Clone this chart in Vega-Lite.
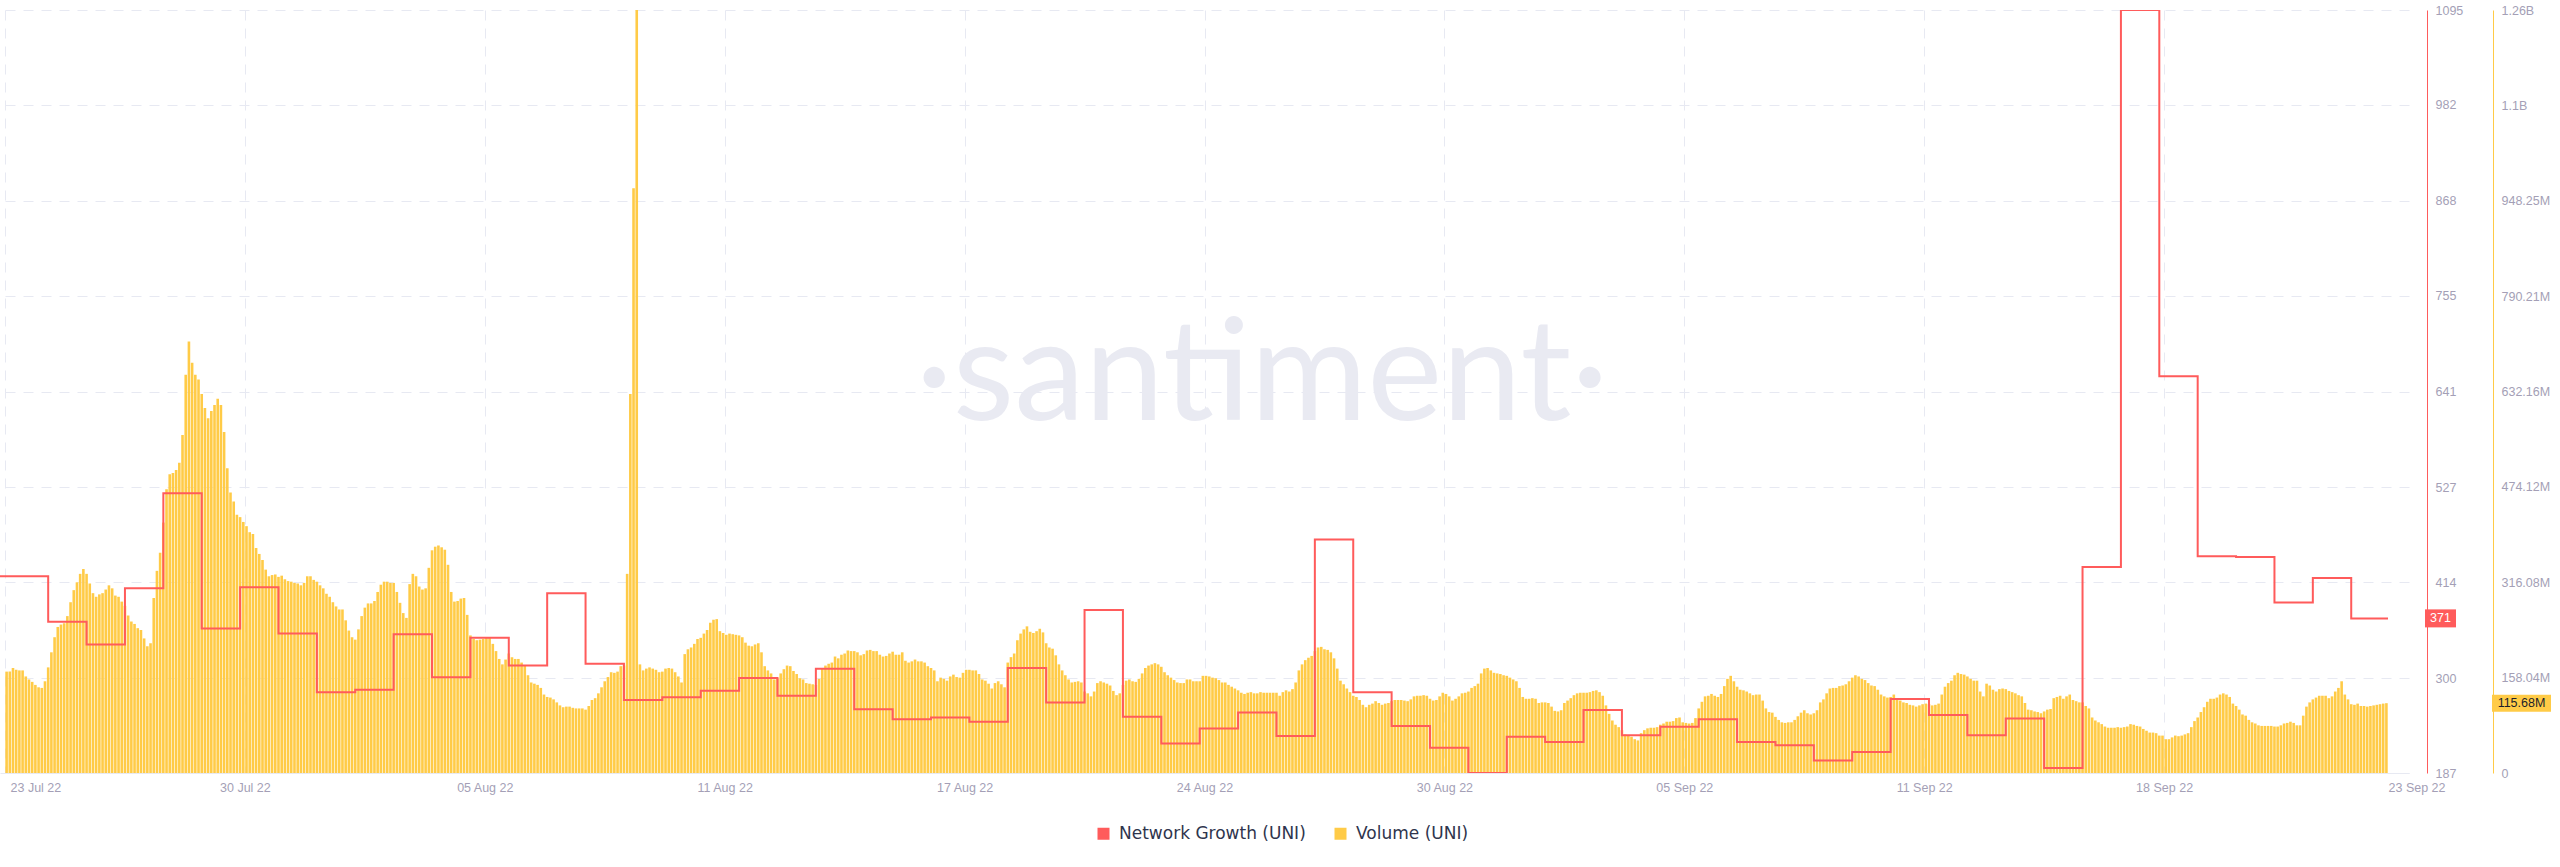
{
"$schema":"https://vega.github.io/schema/vega-lite/v6.json",
"width":2409,"height":763,
"autosize":{"type":"none"},
"padding":{"left":0,"top":10,"right":151,"bottom":94},
"background":"white",
"config":{"view":{"stroke":null},"font":"Liberation Sans"},
"resolve":{"scale":{"y":"independent"},"axis":{"y":"independent"}},
"layer":[
{"layer":[
{"data":{"values":[{"t":"22082515","v":585,"lbl":"·santiment·"}],"format":{"parse":{"t":"date:'%y%m%d%H'"}}},
"mark":{"type":"text","font":"Lato","fontSize":142,"color":"#e9eaf2","align":"center","baseline":"alphabetic"},
"encoding":{"x":{"field":"t","type":"temporal","scale":{"domain":[{"year":2022,"month":7,"date":23,"hours":21},{"year":2022,"month":9,"date":24,"hours":9}]}},
"y":{"field":"v","type":"quantitative","scale":{"domain":[0,1264.33],"nice":false,"zero":true}},
"text":{"field":"lbl","type":"nominal"}}},
{"data":{"values":[
{"t":"22072322","v":168},
{"t":"22072400","v":168},{"t":"22072402","v":174},{"t":"22072404","v":171},{"t":"22072406","v":170},{"t":"22072408","v":170},{"t":"22072410","v":160},{"t":"22072412","v":155},{"t":"22072414","v":151},{"t":"22072416","v":146},{"t":"22072418","v":142},{"t":"22072420","v":141},{"t":"22072422","v":152},
{"t":"22072500","v":175},{"t":"22072502","v":200},{"t":"22072504","v":225},{"t":"22072506","v":242},{"t":"22072508","v":246},{"t":"22072510","v":248},{"t":"22072512","v":260},{"t":"22072514","v":283},{"t":"22072516","v":303},{"t":"22072518","v":316},{"t":"22072520","v":330},{"t":"22072522","v":338},
{"t":"22072600","v":330},{"t":"22072602","v":314},{"t":"22072604","v":298},{"t":"22072606","v":292},{"t":"22072608","v":296},{"t":"22072610","v":298},{"t":"22072612","v":304},{"t":"22072614","v":311},{"t":"22072616","v":306},{"t":"22072618","v":294},{"t":"22072620","v":292},{"t":"22072622","v":284},
{"t":"22072700","v":277},{"t":"22072702","v":261},{"t":"22072704","v":251},{"t":"22072706","v":247},{"t":"22072708","v":240},{"t":"22072710","v":237},{"t":"22072712","v":223},{"t":"22072714","v":210},{"t":"22072716","v":215},{"t":"22072718","v":290},{"t":"22072720","v":335},{"t":"22072722","v":365},
{"t":"22072800","v":415},{"t":"22072802","v":470},{"t":"22072804","v":495},{"t":"22072806","v":497},{"t":"22072808","v":502},{"t":"22072810","v":514},{"t":"22072812","v":560},{"t":"22072814","v":660},{"t":"22072816","v":715},{"t":"22072818","v":680},{"t":"22072820","v":660},{"t":"22072822","v":652},
{"t":"22072900","v":628},{"t":"22072902","v":605},{"t":"22072904","v":588},{"t":"22072906","v":600},{"t":"22072908","v":610},{"t":"22072910","v":620},{"t":"22072912","v":610},{"t":"22072914","v":565},{"t":"22072916","v":505},{"t":"22072918","v":465},{"t":"22072920","v":450},{"t":"22072922","v":428},
{"t":"22073000","v":424},{"t":"22073002","v":416},{"t":"22073004","v":409},{"t":"22073006","v":399},{"t":"22073008","v":396},{"t":"22073010","v":373},{"t":"22073012","v":363},{"t":"22073014","v":353},{"t":"22073016","v":337},{"t":"22073018","v":326},{"t":"22073020","v":328},{"t":"22073022","v":329},
{"t":"22073100","v":325},{"t":"22073102","v":327},{"t":"22073104","v":321},{"t":"22073106","v":318},{"t":"22073108","v":317},{"t":"22073110","v":315},{"t":"22073112","v":314},{"t":"22073114","v":311},{"t":"22073116","v":315},{"t":"22073118","v":326},{"t":"22073120","v":326},{"t":"22073122","v":320},
{"t":"22080100","v":317},{"t":"22080102","v":311},{"t":"22080104","v":306},{"t":"22080106","v":297},{"t":"22080108","v":292},{"t":"22080110","v":283},{"t":"22080112","v":276},{"t":"22080114","v":271},{"t":"22080116","v":271},{"t":"22080118","v":253},{"t":"22080120","v":236},{"t":"22080122","v":225},
{"t":"22080200","v":221},{"t":"22080202","v":238},{"t":"22080204","v":260},{"t":"22080206","v":274},{"t":"22080208","v":281},{"t":"22080210","v":281},{"t":"22080212","v":285},{"t":"22080214","v":300},{"t":"22080216","v":312},{"t":"22080218","v":317},{"t":"22080220","v":317},{"t":"22080222","v":315},
{"t":"22080300","v":315},{"t":"22080302","v":300},{"t":"22080304","v":282},{"t":"22080306","v":265},{"t":"22080308","v":257},{"t":"22080310","v":313},{"t":"22080312","v":330},{"t":"22080314","v":326},{"t":"22080316","v":309},{"t":"22080318","v":304},{"t":"22080320","v":306},{"t":"22080322","v":340},
{"t":"22080400","v":369},{"t":"22080402","v":375},{"t":"22080404","v":377},{"t":"22080406","v":374},{"t":"22080408","v":370},{"t":"22080410","v":345},{"t":"22080412","v":300},{"t":"22080414","v":284},{"t":"22080416","v":285},{"t":"22080418","v":289},{"t":"22080420","v":290},{"t":"22080422","v":262},
{"t":"22080500","v":228},{"t":"22080502","v":222},{"t":"22080504","v":220},{"t":"22080506","v":221},{"t":"22080508","v":222},{"t":"22080510","v":225},{"t":"22080512","v":224},{"t":"22080514","v":214},{"t":"22080516","v":202},{"t":"22080518","v":189},{"t":"22080520","v":180},{"t":"22080522","v":188},
{"t":"22080600","v":198},{"t":"22080602","v":192},{"t":"22080604","v":189},{"t":"22080606","v":189},{"t":"22080608","v":183},{"t":"22080610","v":178},{"t":"22080612","v":162},{"t":"22080614","v":150},{"t":"22080616","v":148},{"t":"22080618","v":146},{"t":"22080620","v":141},{"t":"22080622","v":130},
{"t":"22080700","v":126},{"t":"22080702","v":125},{"t":"22080704","v":122},{"t":"22080706","v":117},{"t":"22080708","v":112},{"t":"22080710","v":109},{"t":"22080712","v":110},{"t":"22080714","v":110},{"t":"22080716","v":108},{"t":"22080718","v":107},{"t":"22080720","v":107},{"t":"22080722","v":107},
{"t":"22080800","v":105},{"t":"22080802","v":111},{"t":"22080804","v":121},{"t":"22080806","v":124},{"t":"22080808","v":132},{"t":"22080810","v":142},{"t":"22080812","v":152},{"t":"22080814","v":159},{"t":"22080816","v":167},{"t":"22080818","v":166},{"t":"22080820","v":168},{"t":"22080822","v":177},
{"t":"22080900","v":178},{"t":"22080902","v":330},{"t":"22080904","v":628},{"t":"22080906","v":969},{"t":"22080908","v":1264.33},{"t":"22080910","v":180},{"t":"22080912","v":170},{"t":"22080914","v":173},{"t":"22080916","v":175},{"t":"22080918","v":173},{"t":"22080920","v":171},{"t":"22080922","v":167},
{"t":"22081000","v":168},{"t":"22081002","v":173},{"t":"22081004","v":174},{"t":"22081006","v":173},{"t":"22081008","v":167},{"t":"22081010","v":160},{"t":"22081012","v":150},{"t":"22081014","v":197},{"t":"22081016","v":205},{"t":"22081018","v":208},{"t":"22081020","v":214},{"t":"22081022","v":222},
{"t":"22081100","v":224},{"t":"22081102","v":231},{"t":"22081104","v":237},{"t":"22081106","v":249},{"t":"22081108","v":254},{"t":"22081110","v":255},{"t":"22081112","v":235},{"t":"22081114","v":232},{"t":"22081116","v":229},{"t":"22081118","v":231},{"t":"22081120","v":230},{"t":"22081122","v":229},
{"t":"22081200","v":228},{"t":"22081202","v":225},{"t":"22081204","v":216},{"t":"22081206","v":211},{"t":"22081208","v":210},{"t":"22081210","v":213},{"t":"22081212","v":215},{"t":"22081214","v":200},{"t":"22081216","v":177},{"t":"22081218","v":170},{"t":"22081220","v":165},{"t":"22081222","v":155},
{"t":"22081300","v":157},{"t":"22081302","v":165},{"t":"22081304","v":172},{"t":"22081306","v":178},{"t":"22081308","v":177},{"t":"22081310","v":169},{"t":"22081312","v":164},{"t":"22081314","v":157},{"t":"22081316","v":155},{"t":"22081318","v":149},{"t":"22081320","v":148},{"t":"22081322","v":147},
{"t":"22081400","v":146},{"t":"22081402","v":156},{"t":"22081404","v":173},{"t":"22081406","v":178},{"t":"22081408","v":181},{"t":"22081410","v":183},{"t":"22081412","v":193},{"t":"22081414","v":190},{"t":"22081416","v":196},{"t":"22081418","v":198},{"t":"22081420","v":203},{"t":"22081422","v":202},
{"t":"22081500","v":202},{"t":"22081502","v":200},{"t":"22081504","v":195},{"t":"22081506","v":197},{"t":"22081508","v":203},{"t":"22081510","v":204},{"t":"22081512","v":202},{"t":"22081514","v":202},{"t":"22081516","v":196},{"t":"22081518","v":193},{"t":"22081520","v":194},{"t":"22081522","v":198},
{"t":"22081600","v":201},{"t":"22081602","v":196},{"t":"22081604","v":196},{"t":"22081606","v":200},{"t":"22081608","v":186},{"t":"22081610","v":183},{"t":"22081612","v":185},{"t":"22081614","v":188},{"t":"22081616","v":185},{"t":"22081618","v":185},{"t":"22081620","v":183},{"t":"22081622","v":177},
{"t":"22081700","v":174},{"t":"22081702","v":170},{"t":"22081704","v":152},{"t":"22081706","v":158},{"t":"22081708","v":156},{"t":"22081710","v":153},{"t":"22081712","v":160},{"t":"22081714","v":163},{"t":"22081716","v":159},{"t":"22081718","v":158},{"t":"22081720","v":166},{"t":"22081722","v":171},
{"t":"22081800","v":171},{"t":"22081802","v":170},{"t":"22081804","v":170},{"t":"22081806","v":164},{"t":"22081808","v":155},{"t":"22081810","v":153},{"t":"22081812","v":148},{"t":"22081814","v":140},{"t":"22081816","v":149},{"t":"22081818","v":152},{"t":"22081820","v":147},{"t":"22081822","v":142},
{"t":"22081900","v":183},{"t":"22081902","v":192},{"t":"22081904","v":198},{"t":"22081906","v":220},{"t":"22081908","v":231},{"t":"22081910","v":238},{"t":"22081912","v":243},{"t":"22081914","v":234},{"t":"22081916","v":232},{"t":"22081918","v":235},{"t":"22081920","v":239},{"t":"22081922","v":233},
{"t":"22082000","v":215},{"t":"22082002","v":208},{"t":"22082004","v":206},{"t":"22082006","v":195},{"t":"22082008","v":180},{"t":"22082010","v":170},{"t":"22082012","v":162},{"t":"22082014","v":155},{"t":"22082016","v":150},{"t":"22082018","v":151},{"t":"22082020","v":152},{"t":"22082022","v":150},
{"t":"22082100","v":135},{"t":"22082102","v":132},{"t":"22082104","v":127},{"t":"22082106","v":135},{"t":"22082108","v":149},{"t":"22082110","v":152},{"t":"22082112","v":150},{"t":"22082114","v":148},{"t":"22082116","v":145},{"t":"22082118","v":136},{"t":"22082120","v":129},{"t":"22082122","v":132},
{"t":"22082200","v":146},{"t":"22082202","v":153},{"t":"22082204","v":155},{"t":"22082206","v":152},{"t":"22082208","v":151},{"t":"22082210","v":156},{"t":"22082212","v":165},{"t":"22082214","v":174},{"t":"22082216","v":178},{"t":"22082218","v":180},{"t":"22082220","v":182},{"t":"22082222","v":180},
{"t":"22082300","v":176},{"t":"22082302","v":167},{"t":"22082304","v":162},{"t":"22082306","v":158},{"t":"22082308","v":154},{"t":"22082310","v":150},{"t":"22082312","v":149},{"t":"22082314","v":149},{"t":"22082316","v":155},{"t":"22082318","v":155},{"t":"22082320","v":152},{"t":"22082322","v":152},
{"t":"22082400","v":152},{"t":"22082402","v":161},{"t":"22082404","v":161},{"t":"22082406","v":160},{"t":"22082408","v":158},{"t":"22082410","v":157},{"t":"22082412","v":154},{"t":"22082414","v":150},{"t":"22082416","v":150},{"t":"22082418","v":146},{"t":"22082420","v":143},{"t":"22082422","v":140},
{"t":"22082500","v":137},{"t":"22082502","v":133},{"t":"22082504","v":131},{"t":"22082506","v":133},{"t":"22082508","v":134},{"t":"22082510","v":132},{"t":"22082512","v":132},{"t":"22082514","v":134},{"t":"22082516","v":133},{"t":"22082518","v":133},{"t":"22082520","v":133},{"t":"22082522","v":133},
{"t":"22082600","v":133},{"t":"22082602","v":128},{"t":"22082604","v":134},{"t":"22082606","v":137},{"t":"22082608","v":135},{"t":"22082610","v":139},{"t":"22082612","v":150},{"t":"22082614","v":170},{"t":"22082616","v":180},{"t":"22082618","v":187},{"t":"22082620","v":191},{"t":"22082622","v":194},
{"t":"22082700","v":202},{"t":"22082702","v":208},{"t":"22082704","v":209},{"t":"22082706","v":205},{"t":"22082708","v":204},{"t":"22082710","v":200},{"t":"22082712","v":190},{"t":"22082714","v":173},{"t":"22082716","v":153},{"t":"22082718","v":147},{"t":"22082720","v":140},{"t":"22082722","v":134},
{"t":"22082800","v":128},{"t":"22082802","v":126},{"t":"22082804","v":121},{"t":"22082806","v":113},{"t":"22082808","v":109},{"t":"22082810","v":113},{"t":"22082812","v":115},{"t":"22082814","v":119},{"t":"22082816","v":116},{"t":"22082818","v":113},{"t":"22082820","v":115},{"t":"22082822","v":116},
{"t":"22082900","v":119},{"t":"22082902","v":121},{"t":"22082904","v":121},{"t":"22082906","v":121},{"t":"22082908","v":120},{"t":"22082910","v":119},{"t":"22082912","v":122},{"t":"22082914","v":127},{"t":"22082916","v":128},{"t":"22082918","v":128},{"t":"22082920","v":129},{"t":"22082922","v":128},
{"t":"22083000","v":123},{"t":"22083002","v":120},{"t":"22083004","v":121},{"t":"22083006","v":127},{"t":"22083008","v":133},{"t":"22083010","v":131},{"t":"22083012","v":127},{"t":"22083014","v":120},{"t":"22083016","v":123},{"t":"22083018","v":127},{"t":"22083020","v":132},{"t":"22083022","v":133},
{"t":"22083100","v":135},{"t":"22083102","v":141},{"t":"22083104","v":144},{"t":"22083106","v":148},{"t":"22083108","v":165},{"t":"22083110","v":173},{"t":"22083112","v":174},{"t":"22083114","v":170},{"t":"22083116","v":166},{"t":"22083118","v":165},{"t":"22083120","v":164},{"t":"22083122","v":162},
{"t":"22090100","v":161},{"t":"22090102","v":158},{"t":"22090104","v":155},{"t":"22090106","v":152},{"t":"22090108","v":141},{"t":"22090110","v":126},{"t":"22090112","v":123},{"t":"22090114","v":123},{"t":"22090116","v":124},{"t":"22090118","v":123},{"t":"22090120","v":116},{"t":"22090122","v":117},
{"t":"22090200","v":117},{"t":"22090202","v":116},{"t":"22090204","v":110},{"t":"22090206","v":103},{"t":"22090208","v":102},{"t":"22090210","v":104},{"t":"22090212","v":116},{"t":"22090214","v":120},{"t":"22090216","v":124},{"t":"22090218","v":129},{"t":"22090220","v":132},{"t":"22090222","v":133},
{"t":"22090300","v":133},{"t":"22090302","v":133},{"t":"22090304","v":134},{"t":"22090306","v":136},{"t":"22090308","v":137},{"t":"22090310","v":134},{"t":"22090312","v":128},{"t":"22090314","v":112},{"t":"22090316","v":98},{"t":"22090318","v":87},{"t":"22090320","v":80},{"t":"22090322","v":76},
{"t":"22090400","v":71},{"t":"22090402","v":64},{"t":"22090404","v":62},{"t":"22090406","v":60},{"t":"22090408","v":56},{"t":"22090410","v":54},{"t":"22090412","v":66},{"t":"22090414","v":71},{"t":"22090416","v":74},{"t":"22090418","v":75},{"t":"22090420","v":75},{"t":"22090422","v":76},
{"t":"22090500","v":80},{"t":"22090502","v":82},{"t":"22090504","v":85},{"t":"22090506","v":85},{"t":"22090508","v":86},{"t":"22090510","v":91},{"t":"22090512","v":92},{"t":"22090514","v":84},{"t":"22090516","v":83},{"t":"22090518","v":82},{"t":"22090520","v":83},{"t":"22090522","v":91},
{"t":"22090600","v":107},{"t":"22090602","v":118},{"t":"22090604","v":127},{"t":"22090606","v":128},{"t":"22090608","v":131},{"t":"22090610","v":128},{"t":"22090612","v":126},{"t":"22090614","v":131},{"t":"22090616","v":144},{"t":"22090618","v":156},{"t":"22090620","v":161},{"t":"22090622","v":152},
{"t":"22090700","v":143},{"t":"22090702","v":138},{"t":"22090704","v":137},{"t":"22090706","v":135},{"t":"22090708","v":132},{"t":"22090710","v":129},{"t":"22090712","v":130},{"t":"22090714","v":130},{"t":"22090716","v":120},{"t":"22090718","v":107},{"t":"22090720","v":101},{"t":"22090722","v":100},
{"t":"22090800","v":93},{"t":"22090802","v":88},{"t":"22090804","v":84},{"t":"22090806","v":83},{"t":"22090808","v":84},{"t":"22090810","v":84},{"t":"22090812","v":88},{"t":"22090814","v":94},{"t":"22090816","v":100},{"t":"22090818","v":104},{"t":"22090820","v":99},{"t":"22090822","v":97},
{"t":"22090900","v":99},{"t":"22090902","v":104},{"t":"22090904","v":117},{"t":"22090906","v":122},{"t":"22090908","v":132},{"t":"22090910","v":140},{"t":"22090912","v":141},{"t":"22090914","v":141},{"t":"22090916","v":144},{"t":"22090918","v":145},{"t":"22090920","v":147},{"t":"22090922","v":152},
{"t":"22091000","v":158},{"t":"22091002","v":162},{"t":"22091004","v":160},{"t":"22091006","v":156},{"t":"22091008","v":154},{"t":"22091010","v":149},{"t":"22091012","v":145},{"t":"22091014","v":144},{"t":"22091016","v":138},{"t":"22091018","v":130},{"t":"22091020","v":127},{"t":"22091022","v":125},
{"t":"22091100","v":126},{"t":"22091102","v":130},{"t":"22091104","v":124},{"t":"22091106","v":120},{"t":"22091108","v":117},{"t":"22091110","v":116},{"t":"22091112","v":113},{"t":"22091114","v":112},{"t":"22091116","v":110},{"t":"22091118","v":112},{"t":"22091120","v":114},{"t":"22091122","v":115},
{"t":"22091200","v":114},{"t":"22091202","v":112},{"t":"22091204","v":113},{"t":"22091206","v":115},{"t":"22091208","v":130},{"t":"22091210","v":143},{"t":"22091212","v":149},{"t":"22091214","v":153},{"t":"22091216","v":162},{"t":"22091218","v":166},{"t":"22091220","v":164},{"t":"22091222","v":163},
{"t":"22091300","v":160},{"t":"22091302","v":156},{"t":"22091304","v":153},{"t":"22091306","v":153},{"t":"22091308","v":135},{"t":"22091310","v":127},{"t":"22091312","v":148},{"t":"22091314","v":145},{"t":"22091316","v":138},{"t":"22091318","v":135},{"t":"22091320","v":139},{"t":"22091322","v":140},
{"t":"22091400","v":139},{"t":"22091402","v":136},{"t":"22091404","v":134},{"t":"22091406","v":132},{"t":"22091408","v":129},{"t":"22091410","v":127},{"t":"22091412","v":116},{"t":"22091414","v":105},{"t":"22091416","v":104},{"t":"22091418","v":102},{"t":"22091420","v":101},{"t":"22091422","v":99},
{"t":"22091500","v":102},{"t":"22091502","v":105},{"t":"22091504","v":106},{"t":"22091506","v":124},{"t":"22091508","v":126},{"t":"22091510","v":128},{"t":"22091512","v":123},{"t":"22091514","v":127},{"t":"22091516","v":130},{"t":"22091518","v":121},{"t":"22091520","v":119},{"t":"22091522","v":117},
{"t":"22091600","v":117},{"t":"22091602","v":111},{"t":"22091604","v":107},{"t":"22091606","v":92},{"t":"22091608","v":87},{"t":"22091610","v":84},{"t":"22091612","v":81},{"t":"22091614","v":77},{"t":"22091616","v":75},{"t":"22091618","v":75},{"t":"22091620","v":75},{"t":"22091622","v":76},
{"t":"22091700","v":75},{"t":"22091702","v":76},{"t":"22091704","v":77},{"t":"22091706","v":81},{"t":"22091708","v":80},{"t":"22091710","v":78},{"t":"22091712","v":77},{"t":"22091714","v":73},{"t":"22091716","v":70},{"t":"22091718","v":67},{"t":"22091720","v":67},{"t":"22091722","v":66},
{"t":"22091800","v":62},{"t":"22091802","v":62},{"t":"22091804","v":56},{"t":"22091806","v":56},{"t":"22091808","v":59},{"t":"22091810","v":62},{"t":"22091812","v":61},{"t":"22091814","v":62},{"t":"22091816","v":64},{"t":"22091818","v":66},{"t":"22091820","v":76},{"t":"22091822","v":86},
{"t":"22091900","v":92},{"t":"22091902","v":101},{"t":"22091904","v":109},{"t":"22091906","v":118},{"t":"22091908","v":123},{"t":"22091910","v":123},{"t":"22091912","v":125},{"t":"22091914","v":130},{"t":"22091916","v":132},{"t":"22091918","v":130},{"t":"22091920","v":126},{"t":"22091922","v":115},
{"t":"22092000","v":111},{"t":"22092002","v":105},{"t":"22092004","v":97},{"t":"22092006","v":95},{"t":"22092008","v":88},{"t":"22092010","v":84},{"t":"22092012","v":82},{"t":"22092014","v":79},{"t":"22092016","v":78},{"t":"22092018","v":78},{"t":"22092020","v":78},{"t":"22092022","v":78},
{"t":"22092100","v":77},{"t":"22092102","v":77},{"t":"22092104","v":79},{"t":"22092106","v":82},{"t":"22092108","v":83},{"t":"22092110","v":85},{"t":"22092112","v":83},{"t":"22092114","v":79},{"t":"22092116","v":79},{"t":"22092118","v":95},{"t":"22092120","v":110},{"t":"22092122","v":117},
{"t":"22092200","v":122},{"t":"22092202","v":125},{"t":"22092204","v":128},{"t":"22092206","v":128},{"t":"22092208","v":128},{"t":"22092210","v":124},{"t":"22092212","v":127},{"t":"22092214","v":135},{"t":"22092216","v":141},{"t":"22092218","v":152},{"t":"22092220","v":130},{"t":"22092222","v":122},
{"t":"22092300","v":114},{"t":"22092302","v":113},{"t":"22092304","v":115},{"t":"22092306","v":111},{"t":"22092308","v":111},{"t":"22092310","v":110},{"t":"22092312","v":111},{"t":"22092314","v":112},{"t":"22092316","v":113},{"t":"22092318","v":114},{"t":"22092320","v":115},{"t":"22092322","v":115.68}
],"format":{"parse":{"t":"date:'%y%m%d%H'"}}},
"mark":{"type":"bar","width":2.6},
"encoding":{"x":{"field":"t","type":"temporal","scale":{"domain":[{"year":2022,"month":7,"date":23,"hours":21},{"year":2022,"month":9,"date":24,"hours":9}]},
"axis":{"title":null,"values":[{"year":2022,"month":7,"date":23,"hours":21},{"year":2022,"month":7,"date":30,"hours":3},{"year":2022,"month":8,"date":5,"hours":9},{"year":2022,"month":8,"date":11,"hours":15},{"year":2022,"month":8,"date":17,"hours":21},{"year":2022,"month":8,"date":24,"hours":3},{"year":2022,"month":8,"date":30,"hours":9},{"year":2022,"month":9,"date":5,"hours":15},{"year":2022,"month":9,"date":11,"hours":21},{"year":2022,"month":9,"date":18,"hours":3},{"year":2022,"month":9,"date":23,"hours":23}],
"format":"%d %b %y","labelFont":"Liberation Sans","labelFontSize":12.5,"labelColor":"#a49fb6","labelPadding":8,"labelOverlap":false,"labelBound":false,"labelFlush":false,"ticks":false,
"labelAlign":{"condition":{"test":"datum.value < datetime(2022,6,24) || datum.value > datetime(2022,8,23)","value":"left"},"value":"center"},
"labelOffset":{"condition":{"test":"datum.value < datetime(2022,6,24)","value":5},"value":0},
"grid":true,"gridColor":"#e7e9f2","gridDash":[10,8],"gridWidth":1,
"gridOpacity":{"condition":{"test":"datum.value > datetime(2022,8,23)","value":0},"value":1},
"domainColor":"#e7e9f2"}},
"y":{"field":"v","type":"quantitative","scale":{"domain":[0,1264.33],"nice":false,"zero":true},
"axis":{"orient":"right","offset":84,"title":null,"values":[0,158.04,316.08,474.12,632.16,790.21,948.25,1106.29,1264.33],
"labelExpr":"datum.value == 0 ? '0' : datum.value > 1200 ? '1.26B' : datum.value > 1000 ? '1.1B' : format(datum.value, '.2f') + 'M'",
"grid":false,"ticks":false,"domainColor":"#ffcb47","domainWidth":1,"labelFont":"Liberation Sans","labelFontSize":12.5,"labelColor":"#a49fb6","labelPadding":8,"labelBaseline":"middle","labelBound":false,"labelOverlap":false,"labelFlush":false}},
"color":{"datum":"Volume (UNI)","scale":{"domain":["Network Growth (UNI)","Volume (UNI)"],"range":["#ff5b5b","#ffcb47"]},
"legend":{"orient":"none","legendX":1095,"legendY":815,"direction":"horizontal","title":null,"symbolType":"square","symbolSize":144,"symbolStrokeWidth":0,"labelFont":"DejaVu Sans","labelFontSize":17,"labelColor":"#2f354d","labelOffset":7,"labelLimit":0,"columnPadding":26,
"encode":{"symbols":{"update":{"fill":{"scale":"color","field":"value"},"fillOpacity":{"value":1},"strokeWidth":{"value":0}}}}}}}},
{"data":{"values":[{"t":"22092323","v":115.68}],"format":{"parse":{"t":"date:'%y%m%d%H'"}}},
"mark":{"type":"rect","clip":false,"color":"#ffcb47","xOffset":104,"x2Offset":163,"yOffset":-8.5,"y2Offset":8.5},
"encoding":{"x":{"field":"t","type":"temporal","scale":{"domain":[{"year":2022,"month":7,"date":23,"hours":21},{"year":2022,"month":9,"date":24,"hours":9}]}},"x2":{"field":"t"},"y":{"field":"v","type":"quantitative","scale":{"domain":[0,1264.33],"nice":false,"zero":true}},"y2":{"field":"v"}}},
{"data":{"values":[{"t":"22092323","v":115.68,"lbl":"115.68M"}],"format":{"parse":{"t":"date:'%y%m%d%H'"}}},
"mark":{"type":"text","clip":false,"dx":133.5,"align":"center","baseline":"middle","font":"Liberation Sans","fontSize":12.5,"color":"#1c1f2b"},
"encoding":{"x":{"field":"t","type":"temporal","scale":{"domain":[{"year":2022,"month":7,"date":23,"hours":21},{"year":2022,"month":9,"date":24,"hours":9}]}},"y":{"field":"v","type":"quantitative","scale":{"domain":[0,1264.33],"nice":false,"zero":true}},"text":{"field":"lbl","type":"nominal"}}}
]},
{"layer":[
{"data":{"values":[
{"t":"22072300","n":421},{"t":"22072400","n":421},{"t":"22072500","n":367},{"t":"22072600","n":340},{"t":"22072700","n":407},{"t":"22072800","n":520},{"t":"22072900","n":359},{"t":"22073000","n":408},{"t":"22073100","n":353},
{"t":"22080100","n":283},{"t":"22080200","n":286},{"t":"22080300","n":352},{"t":"22080400","n":301},{"t":"22080500","n":348},{"t":"22080600","n":315},{"t":"22080700","n":401},{"t":"22080800","n":317},{"t":"22080900","n":274},{"t":"22081000","n":277},
{"t":"22081100","n":285},{"t":"22081200","n":300},{"t":"22081300","n":279},{"t":"22081400","n":311},{"t":"22081500","n":263},{"t":"22081600","n":251},{"t":"22081700","n":253},{"t":"22081800","n":248},{"t":"22081900","n":312},{"t":"22082000","n":271},
{"t":"22082100","n":381},{"t":"22082200","n":254},{"t":"22082300","n":222},{"t":"22082400","n":240},{"t":"22082500","n":259},{"t":"22082600","n":231},{"t":"22082700","n":465},{"t":"22082800","n":283},{"t":"22082900","n":243},{"t":"22083000","n":217},{"t":"22083100","n":187},
{"t":"22090100","n":230},{"t":"22090200","n":224},{"t":"22090300","n":262},{"t":"22090400","n":232},{"t":"22090500","n":242},{"t":"22090600","n":251},{"t":"22090700","n":224},{"t":"22090800","n":220},{"t":"22090900","n":202},{"t":"22091000","n":212},
{"t":"22091100","n":275},{"t":"22091200","n":256},{"t":"22091300","n":232},{"t":"22091400","n":252},{"t":"22091500","n":193},{"t":"22091600","n":432},{"t":"22091700","n":1095},{"t":"22091800","n":659},{"t":"22091900","n":445},{"t":"22092000","n":444},
{"t":"22092100","n":390},{"t":"22092200","n":419},{"t":"22092300","n":371},{"t":"22092323","n":371}
],"format":{"parse":{"t":"date:'%y%m%d%H'"}}},
"mark":{"type":"line","interpolate":"step-after","strokeWidth":2,"clip":true},
"encoding":{"x":{"field":"t","type":"temporal","scale":{"domain":[{"year":2022,"month":7,"date":23,"hours":21},{"year":2022,"month":9,"date":24,"hours":9}]}},
"y":{"field":"n","type":"quantitative","scale":{"domain":[187,1095],"nice":false,"zero":false},
"axis":{"orient":"right","offset":18,"title":null,"format":"d","values":[187,300,414,527,641,755,868,982,1095],"grid":true,"gridColor":"#e7e9f2","gridDash":[10,8],"gridWidth":1,"ticks":false,"domainColor":"#ff5b5b","domainWidth":1,"labelFont":"Liberation Sans","labelFontSize":12.5,"labelColor":"#a49fb6","labelPadding":8,"labelBaseline":"middle","labelBound":false,"labelOverlap":false,"labelFlush":false}},
"color":{"datum":"Network Growth (UNI)","scale":{"domain":["Network Growth (UNI)","Volume (UNI)"],"range":["#ff5b5b","#ffcb47"]}}}},
{"data":{"values":[{"t":"22092323","n":371}],"format":{"parse":{"t":"date:'%y%m%d%H'"}}},
"mark":{"type":"rect","clip":false,"color":"#ff5b5b","xOffset":37,"x2Offset":68,"yOffset":-9,"y2Offset":9},
"encoding":{"x":{"field":"t","type":"temporal","scale":{"domain":[{"year":2022,"month":7,"date":23,"hours":21},{"year":2022,"month":9,"date":24,"hours":9}]}},"x2":{"field":"t"},"y":{"field":"n","type":"quantitative","scale":{"domain":[187,1095],"nice":false,"zero":false}},"y2":{"field":"n"}}},
{"data":{"values":[{"t":"22092323","n":371,"lbl":"371"}],"format":{"parse":{"t":"date:'%y%m%d%H'"}}},
"mark":{"type":"text","clip":false,"dx":52.5,"align":"center","baseline":"middle","font":"Liberation Sans","fontSize":12.5,"color":"#ffffff"},
"encoding":{"x":{"field":"t","type":"temporal","scale":{"domain":[{"year":2022,"month":7,"date":23,"hours":21},{"year":2022,"month":9,"date":24,"hours":9}]}},"text":{"field":"lbl","type":"nominal"},"y":{"field":"n","type":"quantitative","scale":{"domain":[187,1095],"nice":false,"zero":false}}}}
]}
]
}
